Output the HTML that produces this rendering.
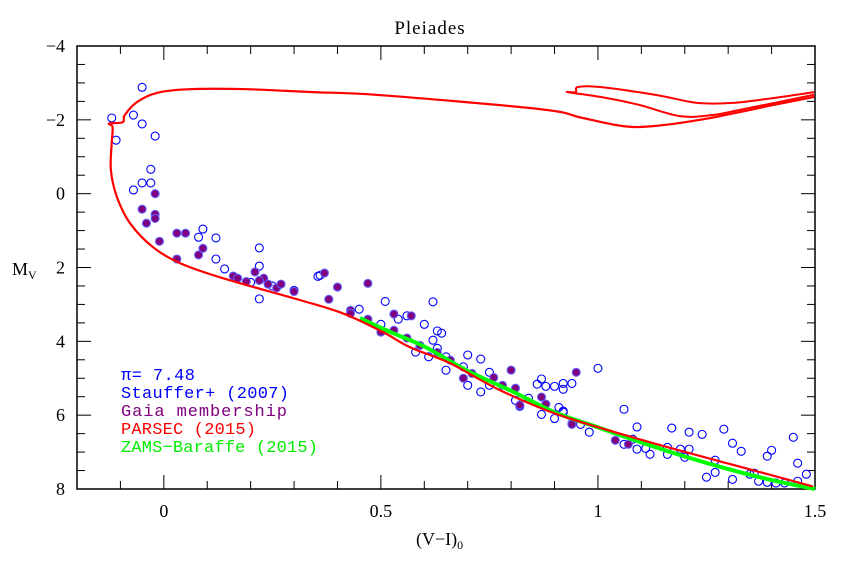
<!DOCTYPE html>
<html><head><meta charset="utf-8"><style>
body{margin:0;background:#fff;}
svg text{font-family:"Liberation Serif",serif;}
</style></head><body>
<svg id="c" width="843" height="557" xmlns="http://www.w3.org/2000/svg">
<text x="430" y="34" font-size="19" letter-spacing="1" text-anchor="middle">Pleiades</text>
<g id="ax"></g>
<g id="marks"></g>
<text x="12" y="275" font-size="18">M<tspan font-size="12" dy="4">V</tspan></text>
<text x="416" y="545" font-size="18">(V−I)<tspan font-size="12" dy="4">0</tspan></text>
<g font-size="17">
<text x="121" y="380" fill="#0000ff" style="font-family:'Liberation Mono',monospace" textLength="74">π= 7.48</text>
<text x="121" y="398" fill="#0000ff" style="font-family:'Liberation Mono',monospace" textLength="168">Stauffer+ (2007)</text>
<text x="121" y="416" fill="#800080" style="font-family:'Liberation Mono',monospace" textLength="166">Gaia membership</text>
<text x="121" y="434" fill="#ff0000" style="font-family:'Liberation Mono',monospace" textLength="135">PARSEC (2015)</text>
<text x="121" y="452" fill="#00ee00" style="font-family:'Liberation Mono',monospace" textLength="197">ZAMS−Baraffe (2015)</text>
</g>
</svg>
<script>
const xTicks=[0,0.5,1,1.5];
const xTickLabels=["0","0.5","1","1.5"];
const yTicks=[-4,-2,0,2,4,6,8];
const yTickLabels=["−4","−2","0","2","4","6","8"];
const parsecMain=[[1.495,7.93],[1.297,7.30],[1.104,6.68],[0.912,6.00],[0.774,5.32],[0.659,4.59],[0.567,4.16],[0.505,3.75],[0.412,3.24],[0.313,2.88],[0.136,2.29],[0.037,1.88],[-0.025,1.45],[-0.078,0.80],[-0.108,0.09],[-0.122,-0.64],[-0.120,-1.37],[-0.118,-1.80],[-0.127,-1.89],[-0.118,-1.91],[-0.094,-1.94],[-0.090,-2.13],[-0.062,-2.48],[-0.016,-2.73],[0.060,-2.83],[0.191,-2.83],[0.343,-2.75],[0.498,-2.67],[0.866,-2.29],[0.965,-2.05],[1.058,-1.83],[1.127,-1.83],[1.235,-2.00],[1.327,-2.21],[1.403,-2.40],[1.498,-2.62]];
const parsecLoop=[[1.498,-2.75],[1.403,-2.59],[1.311,-2.46],[1.228,-2.46],[1.136,-2.67],[1.005,-2.89],[0.954,-2.89],[0.949,-2.75],[0.931,-2.75],[1.021,-2.59],[1.097,-2.40],[1.189,-2.10],[1.265,-2.13],[1.327,-2.27],[1.498,-2.68]];
const zams=[[0.452,3.37],[0.52,3.74],[0.6,4.14],[0.7,4.80],[0.8,5.34],[0.9,5.92],[1.0,6.33],[1.1,6.74],[1.2,7.12],[1.3,7.46],[1.4,7.76],[1.5,8.0]];
const stauffer=[[-0.05,-2.88],[-0.12,-2.05],[-0.07,-2.13],[-0.05,-1.89],[-0.02,-1.56],[-0.11,-1.45],[-0.03,-0.66],[-0.05,-0.29],[-0.03,-0.29],[-0.07,-0.10],[0.09,0.96],[0.08,1.18],[0.12,1.20],[0.12,1.77],[0.14,2.04],[0.22,1.47],[0.22,1.96],[0.36,2.21],[0.2,2.4],[0.22,2.85],[0.25,2.5],[0.3,2.62],[0.355,2.24],[0.45,3.13],[0.51,2.92],[0.62,2.93],[0.50,3.54],[0.54,3.40],[0.56,3.31],[0.60,3.54],[0.63,3.72],[0.64,3.78],[0.62,3.97],[0.63,4.19],[0.58,4.29],[0.61,4.42],[0.65,4.42],[0.65,4.78],[0.69,4.69],[0.70,4.37],[0.73,4.48],[0.75,4.84],[0.70,5.19],[0.73,5.37],[0.75,5.19],[0.81,5.60],[0.84,5.54],[0.82,5.76],[0.86,5.16],[0.87,5.02],[0.88,5.22],[0.90,5.22],[0.92,5.14],[0.92,5.30],[0.94,5.14],[0.87,5.98],[0.90,6.09],[0.92,5.92],[0.91,5.79],[0.98,6.46],[1.00,4.73],[0.92,5.89],[0.96,6.25],[1.06,5.84],[1.09,6.32],[1.06,6.79],[1.08,6.65],[1.09,6.92],[1.11,6.90],[1.12,7.06],[1.16,6.87],[1.16,7.06],[1.17,6.35],[1.19,6.92],[1.21,6.46],[1.21,6.92],[1.20,7.14],[1.24,6.52],[1.25,7.68],[1.27,7.22],[1.27,7.55],[1.29,6.38],[1.31,6.76],[1.33,6.98],[1.31,7.74],[1.36,7.57],[1.35,7.60],[1.37,7.79],[1.39,7.11],[1.40,6.95],[1.39,7.82],[1.41,7.84],[1.43,7.84],[1.45,6.60],[1.46,7.30],[1.48,7.60],[1.46,7.79]];
const gaia=[[-0.02,0.0],[-0.05,0.42],[-0.02,0.56],[-0.02,0.67],[-0.04,0.80],[-0.01,1.29],[0.03,1.07],[0.05,1.07],[0.03,1.77],[0.08,1.66],[0.09,1.48],[0.16,2.23],[0.17,2.29],[0.21,2.12],[0.23,2.29],[0.19,2.38],[0.22,2.35],[0.24,2.45],[0.26,2.55],[0.27,2.45],[0.3,2.65],[0.37,2.15],[0.40,2.53],[0.38,2.86],[0.47,2.43],[0.43,3.16],[0.43,3.24],[0.47,3.40],[0.53,3.26],[0.57,3.31],[0.53,3.70],[0.50,3.75],[0.56,3.91],[0.59,4.11],[0.63,4.30],[0.66,4.51],[0.69,5.00],[0.71,4.87],[0.76,4.98],[0.78,5.19],[0.80,4.78],[0.81,5.27],[0.82,5.73],[0.87,5.51],[0.88,5.70],[0.95,4.84],[0.94,6.22],[0.94,6.25],[1.04,6.68],[1.07,6.79]];
const X0=77,X1=815,Y0=46,Y1=489,xmin=-0.2,xmax=1.5,ymin=-4,ymax=8;
function sx(v){return X0+(v-xmin)/(xmax-xmin)*(X1-X0);}
function sy(v){return Y0+(v-ymin)/(ymax-ymin)*(Y1-Y0);}
const NS="http://www.w3.org/2000/svg";
function mk(t,a,p){const e=document.createElementNS(NS,t);for(const k in a)e.setAttribute(k,a[k]);p.appendChild(e);return e;}
const ax=document.getElementById('ax'),mg=document.getElementById('marks');
const fr=mk('rect',{x:X0,y:Y0,width:X1-X0,height:Y1-Y0,fill:'none',stroke:'#000','stroke-width':1.5},ax);


for(let i=-2;i<=15;i++){const v=i/10;const x=sx(v);const maj=(i%5===0);
 mk('line',{x1:x,x2:x,y1:Y1,y2:Y1-(maj?14:8),stroke:'#000','stroke-width':1},ax);
 mk('line',{x1:x,x2:x,y1:Y0,y2:Y0+(maj?14:8),stroke:'#000','stroke-width':1},ax);}
for(let i=-8;i<=16;i++){const v=i/2;const y=sy(v);const maj=(i%4===0);
 mk('line',{x1:X0,x2:X0+(maj?14:8),y1:y,y2:y,stroke:'#000','stroke-width':1},ax);
 mk('line',{x1:X1,x2:X1-(maj?14:8),y1:y,y2:y,stroke:'#000','stroke-width':1},ax);}
xTicks.forEach((v,i)=>{const t=mk('text',{x:sx(v),y:Y1+28,'font-size':18,'text-anchor':'middle'},ax);t.textContent=xTickLabels[i];
 
 });
yTicks.forEach((v,i)=>{const t=mk('text',{x:X0-12,y:sy(v)+6,'font-size':18,'text-anchor':'end'},ax);t.textContent=yTickLabels[i];
 
 });
function smooth(arr){const p=arr.map(q=>[sx(q[0]),sy(q[1])]);let d='M'+p[0][0].toFixed(1)+','+p[0][1].toFixed(1);
 for(let i=0;i<p.length-1;i++){const a=p[Math.max(0,i-1)],b=p[i],c=p[i+1],e=p[Math.min(p.length-1,i+2)];
  const c1=[b[0]+(c[0]-a[0])/6,b[1]+(c[1]-a[1])/6],c2=[c[0]-(e[0]-b[0])/6,c[1]-(e[1]-b[1])/6];
  d+=' C'+c1.map(v=>v.toFixed(1)).join(',')+' '+c2.map(v=>v.toFixed(1)).join(',')+' '+c.map(v=>v.toFixed(1)).join(',');}
 return d;}
stauffer.forEach(p=>{const c=mk('circle',{cx:sx(p[0]),cy:sy(p[1]),r:4,fill:'none',stroke:'#0000ff','stroke-width':1.1},mg);
 
 });
gaia.forEach(p=>{const c=mk('circle',{cx:sx(p[0]),cy:sy(p[1]),r:4,fill:'#800080',stroke:'#6060ff','stroke-width':1.1},mg);
 
 });
const z=mk('path',{d:smooth(zams),fill:'none',stroke:'#00ff00','stroke-width':4,'stroke-linejoin':'round'},mg);


const r1=mk('path',{d:smooth(parsecMain),fill:'none',stroke:'#ff0000','stroke-width':2.2,'stroke-linejoin':'round'},mg);


const r2=mk('path',{d:smooth(parsecLoop),fill:'none',stroke:'#ff0000','stroke-width':2,'stroke-linejoin':'round'},mg);


</script>
</body></html>
